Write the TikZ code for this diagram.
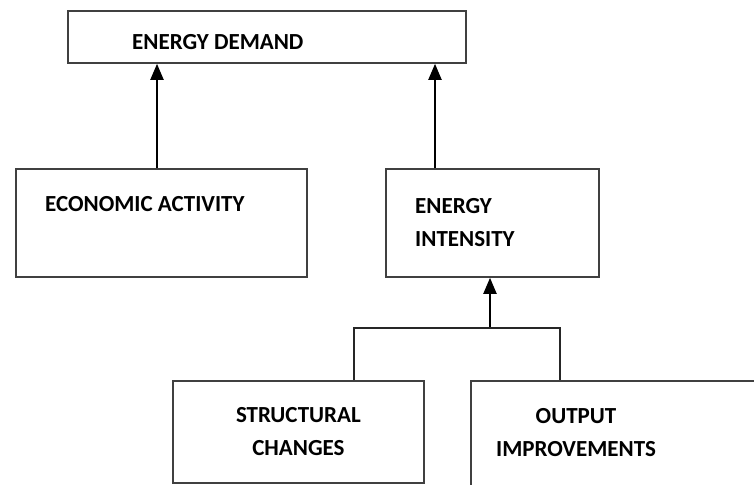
\documentclass[tikz,border=0pt]{standalone}
\usepackage{fontspec}
\setmainfont{Carlito}
\usetikzlibrary{arrows.meta,positioning,calc}
\tikzset{
    box/.style={draw=black!75, line width=1.8pt, inner sep=0pt, anchor=north west},
    lbl/.style={font=\bfseries\fontsize{23}{33}\selectfont, inner sep=0pt},
    arr/.style={-{Triangle[width=13pt,length=16pt]}, line width=2pt},
    conn/.style={draw=black!85, line width=1.7pt}
}
\begin{document}
\begin{tikzpicture}[x=1pt,y=-1pt]
    \useasboundingbox (0,0) rectangle (754,484);
    \clip (0,0) rectangle (754,484);
    %draw boxes
    \node[box, minimum width=398pt, minimum height=52pt] (demand) at (67,10) {};
    \node[box, minimum width=291pt, minimum height=108pt] (econ) at (15,168) {};
    \node[box, minimum width=213pt, minimum height=108pt] (inten) at (385,168) {};
    \node[box, minimum width=251pt, minimum height=102pt] (struct) at (172,380) {};
    \node[box, minimum width=330pt, minimum height=108pt] (output) at (470,380) {};
    %draw labels
    \node[lbl, anchor=west] (demandtxt) at ([xshift=65pt,yshift=-5pt]demand.west) {ENERGY DEMAND};
    \node[lbl, anchor=west] (econtxt) at ([xshift=30pt,yshift=19pt]econ.west) {ECONOMIC ACTIVITY};
    \node[lbl, anchor=west, align=left] (intentxt) at ([xshift=30pt]inten.west) {ENERGY\\INTENSITY};
    \node[lbl, align=center] (structtxt) at (struct.center) {STRUCTURAL\\CHANGES};
    \node[lbl, align=center] (outputtxt) at ([xshift=106pt,yshift=2pt]output.west) {OUTPUT\\IMPROVEMENTS};
    %draw arrows
    \draw[arr] ([xshift=142pt]econ.north west) coordinate (a1) -- (a1 |- demand.south);
    \draw[arr] ([xshift=50pt]inten.north west) coordinate (a2) -- (a2 |- demand.south);
    \coordinate (split) at (490,328);
    \draw[arr] (split) -- (split |- inten.south);
    \draw[conn] ([xshift=182pt]struct.north west) |- (split) -| ([xshift=90pt]output.north west);
\end{tikzpicture}
\end{document}
